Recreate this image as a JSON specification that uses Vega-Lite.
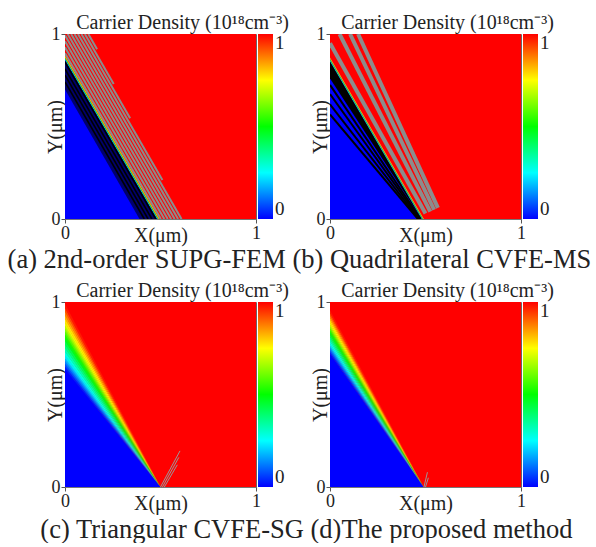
{
  "$schema": "https://vega.github.io/schema/vega-lite/v6.json",
  "background": "white",
  "padding": {"left": 7, "top": 12, "right": 0, "bottom": 0},
  "config": {
    "font": "Liberation Serif",
    "view": {"stroke": "#666", "strokeWidth": 1},
    "axis": {"grid": false, "labelFont": "Liberation Serif", "labelFontSize": 18, "labelColor": "#222", "titleFont": "Liberation Serif", "titleFontSize": 20, "titleFontWeight": "normal", "titleColor": "#222", "domainColor": "#777", "tickColor": "#555", "tickSize": 4, "labelPadding": 1, "labelFlush": false},
    "axisX": {"titlePadding": -17},
    "axisY": {"titlePadding": -14},
    "legend": {"gradientLength": 185, "gradientThickness": 15, "gradientStrokeWidth": 0, "labelFont": "Liberation Serif", "labelFontSize": 19, "labelColor": "#222", "offset": 2, "padding": 0, "labelOffset": 6},
    "title": {"font": "Liberation Serif", "fontWeight": "normal", "color": "#222", "anchor": "middle", "offset": -8}
  },
  "spacing": 7,
  "resolve": {"scale": {"color": "independent"}, "legend": {"color": "independent"}},
  "vconcat": [
    {
      "spacing": 19,
      "resolve": {"scale": {"color": "independent"}, "legend": {"color": "independent"}},
      "title": {"text": "(a) 2nd-order SUPG-FEM (b) Quadrilateral CVFE-MS", "orient": "bottom", "fontSize": 26.5, "offset": 1},
      "hconcat": [
        {
          "width": 191, "height": 185,
          "title": {"text": "Carrier Density (10¹⁸cm⁻³)", "fontSize": 20, "dx": 22},
          "layer": [
            {
              "data": {"values": [{"x": 0, "x2": 1, "y": 0, "y2": 1, "v": 1}]},
              "mark": {"type": "rect", "clip": true},
              "encoding": {
                "x": {"field": "x", "type": "quantitative", "title": "X(μm)", "scale": {"domain": [0, 1], "nice": false}, "axis": {"values": [0, 1], "format": "d"}},
                "x2": {"field": "x2"},
                "y": {"field": "y", "type": "quantitative", "title": "Y(μm)", "scale": {"domain": [0, 1], "nice": false}, "axis": {"values": [0, 1], "format": "d"}},
                "y2": {"field": "y2"},
                "color": {"field": "v", "type": "quantitative", "scale": {"domain": [0, 0.25, 0.5, 0.75, 1], "range": ["#0000ff", "#00ffff", "#00ff00", "#ffff00", "#ff0000"], "interpolate": "rgb"}, "legend": {"type": "gradient", "values": [0, 1], "format": "d", "title": null}}
              }
            },
            {
              "data": {"values": [
                {"g": 0, "v": 0, "x": 0, "y": 0.875, "y2": 0}, {"g": 0, "v": 0, "x": 0.49, "y": 0, "y2": 0},
                {"g": 1, "v": 0.3, "x": 0, "y": 0.868, "y2": 0.860}, {"g": 1, "v": 0.3, "x": 0.4816, "y": 0.008, "y2": 0}, {"g": 1, "v": 0.3, "x": 0.4861, "y": 0, "y2": 0},
                {"g": 2, "v": 0.55, "x": 0, "y": 0.876, "y2": 0.868}, {"g": 2, "v": 0.55, "x": 0.4861, "y": 0.008, "y2": 0}, {"g": 2, "v": 0.55, "x": 0.4906, "y": 0, "y2": 0},
                {"g": 3, "v": 0.8, "x": 0, "y": 0.884, "y2": 0.876}, {"g": 3, "v": 0.8, "x": 0.4906, "y": 0.008, "y2": 0}, {"g": 3, "v": 0.8, "x": 0.4950, "y": 0, "y2": 0}
              ]},
              "mark": {"type": "area", "clip": true},
              "encoding": {
                "x": {"field": "x", "type": "quantitative", "title": "X(μm)"},
                "y": {"field": "y", "type": "quantitative", "title": "Y(μm)", "stack": null},
                "y2": {"field": "y2"},
                "detail": {"field": "g", "type": "nominal"},
                "color": {"field": "v", "type": "quantitative"}
              }
            },
            {
              "data": {"values": [{"x": 0, "y": 0.860, "y2": 0.70}, {"x": 0.39, "y": 0.164, "y2": 0}, {"x": 0.4816, "y": 0, "y2": 0}]},
              "mark": {"type": "area", "clip": true, "color": "#00006e"},
              "encoding": {
                "x": {"field": "x", "type": "quantitative", "title": "X(μm)"},
                "y": {"field": "y", "type": "quantitative", "title": "Y(μm)", "stack": null},
                "y2": {"field": "y2"}
              }
            },
            {
              "data": {"values": [
                {"x": 0, "y": 0.848, "x2": 0.475, "y2": 0},
                {"x": 0, "y": 0.812, "x2": 0.455, "y2": 0},
                {"x": 0, "y": 0.777, "x2": 0.435, "y2": 0},
                {"x": 0, "y": 0.741, "x2": 0.415, "y2": 0}
              ]},
              "mark": {"type": "rule", "clip": true, "color": "#000000", "strokeWidth": 1.6},
              "encoding": {
                "x": {"field": "x", "type": "quantitative", "title": "X(μm)"},
                "x2": {"field": "x2"},
                "y": {"field": "y", "type": "quantitative", "title": "Y(μm)"},
                "y2": {"field": "y2"}
              }
            },
            {
              "data": {"values": [
                {"x": 0, "y": 0.896, "x2": 0.502, "y2": 0},
                {"x": 0, "y": 0.929, "x2": 0.520, "y2": 0},
                {"x": 0, "y": 0.961, "x2": 0.538, "y2": 0},
                {"x": 0, "y": 0.993, "x2": 0.556, "y2": 0},
                {"x": 0.014, "y": 1, "x2": 0.574, "y2": 0},
                {"x": 0.032, "y": 1, "x2": 0.592, "y2": 0},
                {"x": 0.050, "y": 1, "x2": 0.610, "y2": 0},
                {"x": 0.068, "y": 1, "x2": 0.510, "y2": 0.211},
                {"x": 0.086, "y": 1, "x2": 0.341, "y2": 0.544},
                {"x": 0.104, "y": 1, "x2": 0.255, "y2": 0.730},
                {"x": 0.122, "y": 1, "x2": 0.168, "y2": 0.917}
              ]},
              "mark": {"type": "rule", "clip": true, "color": "#8c8c8c", "strokeWidth": 2},
              "encoding": {
                "x": {"field": "x", "type": "quantitative", "title": "X(μm)"},
                "x2": {"field": "x2"},
                "y": {"field": "y", "type": "quantitative", "title": "Y(μm)"},
                "y2": {"field": "y2"}
              }
            }
          ]
        },
        {
          "width": 191, "height": 185,
          "title": {"text": "Carrier Density (10¹⁸cm⁻³)", "fontSize": 20, "dx": 22},
          "layer": [
            {
              "data": {"values": [{"x": 0, "x2": 1, "y": 0, "y2": 1, "v": 1}]},
              "mark": {"type": "rect", "clip": true},
              "encoding": {
                "x": {"field": "x", "type": "quantitative", "title": "X(μm)", "scale": {"domain": [0, 1], "nice": false}, "axis": {"values": [0, 1], "format": "d"}},
                "x2": {"field": "x2"},
                "y": {"field": "y", "type": "quantitative", "title": "Y(μm)", "scale": {"domain": [0, 1], "nice": false}, "axis": {"values": [0, 1], "format": "d"}},
                "y2": {"field": "y2"},
                "color": {"field": "v", "type": "quantitative", "scale": {"domain": [0, 0.25, 0.5, 0.75, 1], "range": ["#0000ff", "#00ffff", "#00ff00", "#ffff00", "#ff0000"], "interpolate": "rgb"}, "legend": {"type": "gradient", "values": [0, 1], "format": "d", "title": null}}
              }
            },
            {
              "data": {"values": [
                {"g": 0, "v": 0, "x": 0, "y": 0.87, "y2": 0}, {"g": 0, "v": 0, "x": 0.49, "y": 0, "y2": 0},
                {"g": 1, "v": 0.3, "x": 0, "y": 0.859, "y2": 0.852}, {"g": 1, "v": 0.3, "x": 0.4799, "y": 0.007, "y2": 0}, {"g": 1, "v": 0.3, "x": 0.4838, "y": 0, "y2": 0},
                {"g": 2, "v": 0.55, "x": 0, "y": 0.866, "y2": 0.859}, {"g": 2, "v": 0.55, "x": 0.4838, "y": 0.007, "y2": 0}, {"g": 2, "v": 0.55, "x": 0.4877, "y": 0, "y2": 0},
                {"g": 3, "v": 0.8, "x": 0, "y": 0.873, "y2": 0.866}, {"g": 3, "v": 0.8, "x": 0.4877, "y": 0.007, "y2": 0}, {"g": 3, "v": 0.8, "x": 0.4917, "y": 0, "y2": 0}
              ]},
              "mark": {"type": "area", "clip": true},
              "encoding": {
                "x": {"field": "x", "type": "quantitative", "title": "X(μm)"},
                "y": {"field": "y", "type": "quantitative", "title": "Y(μm)", "stack": null},
                "y2": {"field": "y2"},
                "detail": {"field": "g", "type": "nominal"},
                "color": {"field": "v", "type": "quantitative"}
              }
            },
            {
              "data": {"values": [{"x": 0, "y": 0.852, "y2": 0.76}, {"x": 0.4799, "y": 0, "y2": 0}]},
              "mark": {"type": "area", "clip": true, "color": "#000000"},
              "encoding": {
                "x": {"field": "x", "type": "quantitative", "title": "X(μm)"},
                "y": {"field": "y", "type": "quantitative", "title": "Y(μm)", "stack": null},
                "y2": {"field": "y2"}
              }
            },
            {
              "data": {"values": [
                {"x": 0, "y": 0.725, "x2": 0.475, "y2": 0},
                {"x": 0, "y": 0.675, "x2": 0.47, "y2": 0},
                {"x": 0, "y": 0.62, "x2": 0.465, "y2": 0},
                {"x": 0, "y": 0.565, "x2": 0.46, "y2": 0}
              ]},
              "mark": {"type": "rule", "clip": true, "color": "#000000", "strokeWidth": 2},
              "encoding": {
                "x": {"field": "x", "type": "quantitative", "title": "X(μm)"},
                "x2": {"field": "x2"},
                "y": {"field": "y", "type": "quantitative", "title": "Y(μm)"},
                "y2": {"field": "y2"}
              }
            },
            {
              "data": {"values": [
                {"x": 0, "y": 0.95, "x2": 0.50, "y2": 0.03},
                {"x": 0.05, "y": 1, "x2": 0.525, "y2": 0.04},
                {"x": 0.105, "y": 1, "x2": 0.545, "y2": 0.05},
                {"x": 0.147, "y": 1, "x2": 0.565, "y2": 0.06}
              ]},
              "mark": {"type": "rule", "clip": true, "color": "#8c8c8c", "strokeWidth": 4},
              "encoding": {
                "x": {"field": "x", "type": "quantitative", "title": "X(μm)"},
                "x2": {"field": "x2"},
                "y": {"field": "y", "type": "quantitative", "title": "Y(μm)"},
                "y2": {"field": "y2"}
              }
            }
          ]
        }
      ]
    },
    {
      "spacing": 19,
      "resolve": {"scale": {"color": "independent"}, "legend": {"color": "independent"}},
      "title": {"text": "(c) Triangular CVFE-SG (d)The proposed method", "orient": "bottom", "fontSize": 26.5, "offset": 3, "dx": 7},
      "hconcat": [
        {
          "width": 191, "height": 185,
          "title": {"text": "Carrier Density (10¹⁸cm⁻³)", "fontSize": 20, "dx": 22},
          "layer": [
            {
              "data": {"values": [{"x": 0, "x2": 1, "y": 0, "y2": 1, "v": 1}]},
              "mark": {"type": "rect", "clip": true},
              "encoding": {
                "x": {"field": "x", "type": "quantitative", "title": "X(μm)", "scale": {"domain": [0, 1], "nice": false}, "axis": {"values": [0, 1], "format": "d"}},
                "x2": {"field": "x2"},
                "y": {"field": "y", "type": "quantitative", "title": "Y(μm)", "scale": {"domain": [0, 1], "nice": false}, "axis": {"values": [0, 1], "format": "d"}},
                "y2": {"field": "y2"},
                "color": {"field": "v", "type": "quantitative", "scale": {"domain": [0, 0.25, 0.5, 0.75, 1], "range": ["#0000ff", "#00ffff", "#00ff00", "#ffff00", "#ff0000"], "interpolate": "rgb"}, "legend": {"type": "gradient", "values": [0, 1], "format": "d", "title": null}}
              }
            },
            {
              "data": {"values": [
                {"g": -1, "v": 0, "x": 0, "y": 0.640, "y2": 0}, {"g": -1, "v": 0, "x": 0.5, "y": 0, "y2": 0},
                {"g": 0, "v": 0.025, "x": 0, "y": 0.655, "y2": 0.636}, {"g": 0, "v": 0.025, "x": 0.5, "y": 0, "y2": 0},
                {"g": 1, "v": 0.075, "x": 0, "y": 0.670, "y2": 0.651}, {"g": 1, "v": 0.075, "x": 0.5, "y": 0, "y2": 0},
                {"g": 2, "v": 0.125, "x": 0, "y": 0.685, "y2": 0.666}, {"g": 2, "v": 0.125, "x": 0.5, "y": 0, "y2": 0},
                {"g": 3, "v": 0.175, "x": 0, "y": 0.700, "y2": 0.681}, {"g": 3, "v": 0.175, "x": 0.5, "y": 0, "y2": 0},
                {"g": 4, "v": 0.225, "x": 0, "y": 0.715, "y2": 0.696}, {"g": 4, "v": 0.225, "x": 0.5, "y": 0, "y2": 0},
                {"g": 5, "v": 0.275, "x": 0, "y": 0.734, "y2": 0.711}, {"g": 5, "v": 0.275, "x": 0.5, "y": 0, "y2": 0},
                {"g": 6, "v": 0.325, "x": 0, "y": 0.754, "y2": 0.730}, {"g": 6, "v": 0.325, "x": 0.5, "y": 0, "y2": 0},
                {"g": 7, "v": 0.375, "x": 0, "y": 0.773, "y2": 0.750}, {"g": 7, "v": 0.375, "x": 0.5, "y": 0, "y2": 0},
                {"g": 8, "v": 0.425, "x": 0, "y": 0.793, "y2": 0.769}, {"g": 8, "v": 0.425, "x": 0.5, "y": 0, "y2": 0},
                {"g": 9, "v": 0.475, "x": 0, "y": 0.812, "y2": 0.789}, {"g": 9, "v": 0.475, "x": 0.5, "y": 0, "y2": 0},
                {"g": 10, "v": 0.525, "x": 0, "y": 0.828, "y2": 0.808}, {"g": 10, "v": 0.525, "x": 0.5, "y": 0, "y2": 0},
                {"g": 11, "v": 0.575, "x": 0, "y": 0.844, "y2": 0.824}, {"g": 11, "v": 0.575, "x": 0.5, "y": 0, "y2": 0},
                {"g": 12, "v": 0.625, "x": 0, "y": 0.860, "y2": 0.840}, {"g": 12, "v": 0.625, "x": 0.5, "y": 0, "y2": 0},
                {"g": 13, "v": 0.675, "x": 0, "y": 0.876, "y2": 0.856}, {"g": 13, "v": 0.675, "x": 0.5, "y": 0, "y2": 0},
                {"g": 14, "v": 0.725, "x": 0, "y": 0.892, "y2": 0.872}, {"g": 14, "v": 0.725, "x": 0.5, "y": 0, "y2": 0},
                {"g": 15, "v": 0.775, "x": 0, "y": 0.912, "y2": 0.888}, {"g": 15, "v": 0.775, "x": 0.5, "y": 0, "y2": 0},
                {"g": 16, "v": 0.825, "x": 0, "y": 0.931, "y2": 0.908}, {"g": 16, "v": 0.825, "x": 0.5, "y": 0, "y2": 0},
                {"g": 17, "v": 0.875, "x": 0, "y": 0.951, "y2": 0.927}, {"g": 17, "v": 0.875, "x": 0.5, "y": 0, "y2": 0},
                {"g": 18, "v": 0.925, "x": 0, "y": 0.970, "y2": 0.947}, {"g": 18, "v": 0.925, "x": 0.5, "y": 0, "y2": 0},
                {"g": 19, "v": 0.975, "x": 0, "y": 0.990, "y2": 0.966}, {"g": 19, "v": 0.975, "x": 0.5, "y": 0, "y2": 0}
              ]},
              "mark": {"type": "area", "clip": true},
              "encoding": {
                "x": {"field": "x", "type": "quantitative", "title": "X(μm)"},
                "y": {"field": "y", "type": "quantitative", "title": "Y(μm)", "stack": null},
                "y2": {"field": "y2"},
                "detail": {"field": "g", "type": "nominal"},
                "color": {"field": "v", "type": "quantitative"}
              }
            },
            {
              "data": {"values": [
                {"x": 0.50, "y": 0, "x2": 0.602, "y2": 0.195},
                {"x": 0.51, "y": 0, "x2": 0.596, "y2": 0.16},
                {"x": 0.52, "y": 0, "x2": 0.588, "y2": 0.12}
              ]},
              "mark": {"type": "rule", "clip": true, "color": "#999999", "strokeWidth": 1},
              "encoding": {
                "x": {"field": "x", "type": "quantitative", "title": "X(μm)"},
                "x2": {"field": "x2"},
                "y": {"field": "y", "type": "quantitative", "title": "Y(μm)"},
                "y2": {"field": "y2"}
              }
            }
          ]
        },
        {
          "width": 191, "height": 185,
          "title": {"text": "Carrier Density (10¹⁸cm⁻³)", "fontSize": 20, "dx": 22},
          "layer": [
            {
              "data": {"values": [{"x": 0, "x2": 1, "y": 0, "y2": 1, "v": 1}]},
              "mark": {"type": "rect", "clip": true},
              "encoding": {
                "x": {"field": "x", "type": "quantitative", "title": "X(μm)", "scale": {"domain": [0, 1], "nice": false}, "axis": {"values": [0, 1], "format": "d"}},
                "x2": {"field": "x2"},
                "y": {"field": "y", "type": "quantitative", "title": "Y(μm)", "scale": {"domain": [0, 1], "nice": false}, "axis": {"values": [0, 1], "format": "d"}},
                "y2": {"field": "y2"},
                "color": {"field": "v", "type": "quantitative", "scale": {"domain": [0, 0.25, 0.5, 0.75, 1], "range": ["#0000ff", "#00ffff", "#00ff00", "#ffff00", "#ff0000"], "interpolate": "rgb"}, "legend": {"type": "gradient", "values": [0, 1], "format": "d", "title": null}}
              }
            },
            {
              "data": {"values": [
                {"g": -1, "v": 0, "x": 0, "y": 0.722, "y2": 0}, {"g": -1, "v": 0, "x": 0.49, "y": 0, "y2": 0},
                {"g": 0, "v": 0.025, "x": 0, "y": 0.733, "y2": 0.719}, {"g": 0, "v": 0.025, "x": 0.49, "y": 0, "y2": 0},
                {"g": 1, "v": 0.075, "x": 0, "y": 0.744, "y2": 0.730}, {"g": 1, "v": 0.075, "x": 0.49, "y": 0, "y2": 0},
                {"g": 2, "v": 0.125, "x": 0, "y": 0.754, "y2": 0.741}, {"g": 2, "v": 0.125, "x": 0.49, "y": 0, "y2": 0},
                {"g": 3, "v": 0.175, "x": 0, "y": 0.765, "y2": 0.751}, {"g": 3, "v": 0.175, "x": 0.49, "y": 0, "y2": 0},
                {"g": 4, "v": 0.225, "x": 0, "y": 0.776, "y2": 0.762}, {"g": 4, "v": 0.225, "x": 0.49, "y": 0, "y2": 0},
                {"g": 5, "v": 0.275, "x": 0, "y": 0.789, "y2": 0.773}, {"g": 5, "v": 0.275, "x": 0.49, "y": 0, "y2": 0},
                {"g": 6, "v": 0.325, "x": 0, "y": 0.801, "y2": 0.786}, {"g": 6, "v": 0.325, "x": 0.49, "y": 0, "y2": 0},
                {"g": 7, "v": 0.375, "x": 0, "y": 0.814, "y2": 0.798}, {"g": 7, "v": 0.375, "x": 0.49, "y": 0, "y2": 0},
                {"g": 8, "v": 0.425, "x": 0, "y": 0.826, "y2": 0.811}, {"g": 8, "v": 0.425, "x": 0.49, "y": 0, "y2": 0},
                {"g": 9, "v": 0.475, "x": 0, "y": 0.839, "y2": 0.823}, {"g": 9, "v": 0.475, "x": 0.49, "y": 0, "y2": 0},
                {"g": 10, "v": 0.525, "x": 0, "y": 0.850, "y2": 0.836}, {"g": 10, "v": 0.525, "x": 0.49, "y": 0, "y2": 0},
                {"g": 11, "v": 0.575, "x": 0, "y": 0.860, "y2": 0.847}, {"g": 11, "v": 0.575, "x": 0.49, "y": 0, "y2": 0},
                {"g": 12, "v": 0.625, "x": 0, "y": 0.871, "y2": 0.857}, {"g": 12, "v": 0.625, "x": 0.49, "y": 0, "y2": 0},
                {"g": 13, "v": 0.675, "x": 0, "y": 0.881, "y2": 0.868}, {"g": 13, "v": 0.675, "x": 0.49, "y": 0, "y2": 0},
                {"g": 14, "v": 0.725, "x": 0, "y": 0.892, "y2": 0.878}, {"g": 14, "v": 0.725, "x": 0.49, "y": 0, "y2": 0},
                {"g": 15, "v": 0.775, "x": 0, "y": 0.905, "y2": 0.889}, {"g": 15, "v": 0.775, "x": 0.49, "y": 0, "y2": 0},
                {"g": 16, "v": 0.825, "x": 0, "y": 0.917, "y2": 0.902}, {"g": 16, "v": 0.825, "x": 0.49, "y": 0, "y2": 0},
                {"g": 17, "v": 0.875, "x": 0, "y": 0.930, "y2": 0.914}, {"g": 17, "v": 0.875, "x": 0.49, "y": 0, "y2": 0},
                {"g": 18, "v": 0.925, "x": 0, "y": 0.942, "y2": 0.927}, {"g": 18, "v": 0.925, "x": 0.49, "y": 0, "y2": 0},
                {"g": 19, "v": 0.975, "x": 0, "y": 0.955, "y2": 0.939}, {"g": 19, "v": 0.975, "x": 0.49, "y": 0, "y2": 0}
              ]},
              "mark": {"type": "area", "clip": true},
              "encoding": {
                "x": {"field": "x", "type": "quantitative", "title": "X(μm)"},
                "y": {"field": "y", "type": "quantitative", "title": "Y(μm)", "stack": null},
                "y2": {"field": "y2"},
                "detail": {"field": "g", "type": "nominal"},
                "color": {"field": "v", "type": "quantitative"}
              }
            },
            {
              "data": {"values": [
                {"x": 0.492, "y": 0, "x2": 0.51, "y2": 0.08},
                {"x": 0.50, "y": 0, "x2": 0.515, "y2": 0.05}
              ]},
              "mark": {"type": "rule", "clip": true, "color": "#999999", "strokeWidth": 1},
              "encoding": {
                "x": {"field": "x", "type": "quantitative", "title": "X(μm)"},
                "x2": {"field": "x2"},
                "y": {"field": "y", "type": "quantitative", "title": "Y(μm)"},
                "y2": {"field": "y2"}
              }
            }
          ]
        }
      ]
    }
  ]
}
